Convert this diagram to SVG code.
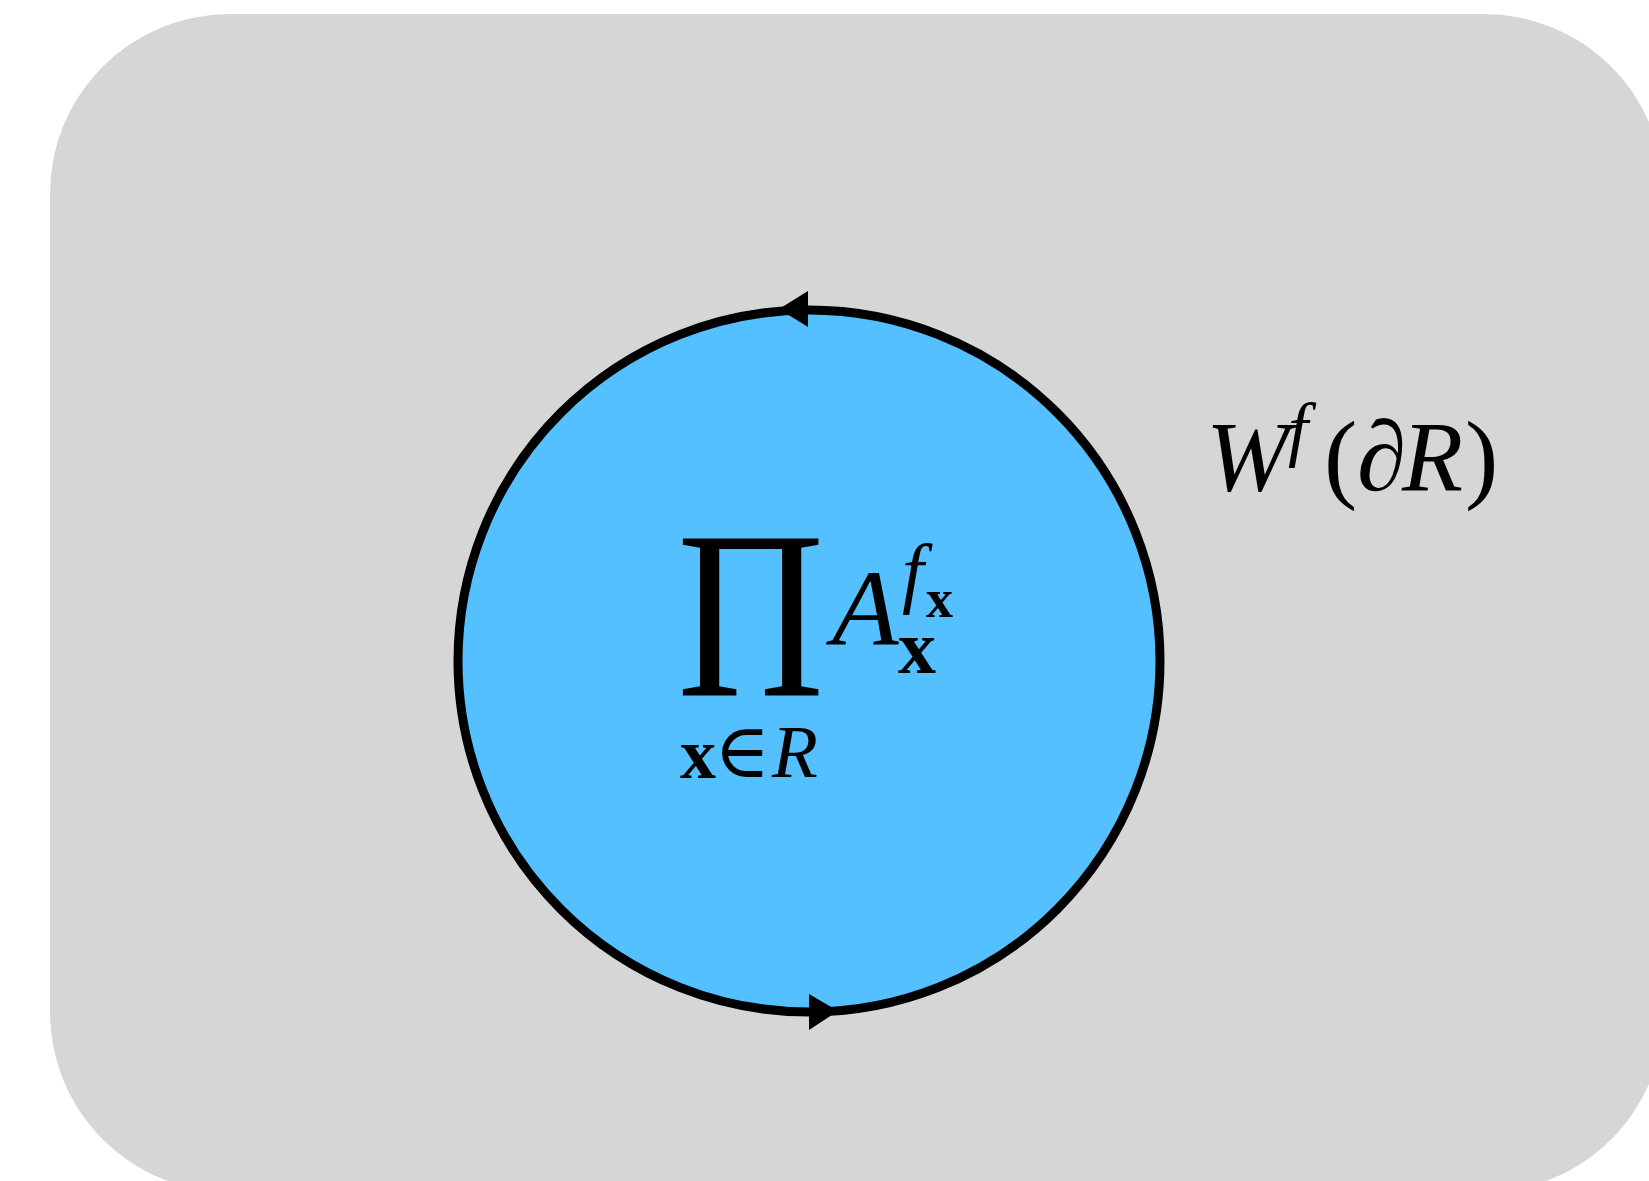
<svg xmlns="http://www.w3.org/2000/svg" width="1649" height="1181" viewBox="0 0 1649 1181">
<style>
.t{font-family:"Liberation Serif","DejaVu Serif",serif;fill:#000}
.i{font-style:italic}
.b{font-weight:bold}
.arrow{fill:#000;stroke:none}
</style>
<rect width="1649" height="1181" fill="#ffffff"/>
<g id="region-bg">
<rect x="50" y="14" width="1614" height="1178" rx="180" ry="180" fill="#d6d6d6"/>
<text class="t" font-size="100"><tspan class="i" x="1206" y="490">W</tspan><tspan class="i" x="1288" y="453" font-size="72">f</tspan><tspan x="1324" y="490">(</tspan><tspan class="i" x="1357" y="490">∂</tspan><tspan class="i" x="1402" y="490">R</tspan><tspan x="1465" y="490">)</tspan></text>
</g>
<g id="region-disc">
<circle cx="809" cy="661" r="351" fill="#54c0ff" stroke="#000" stroke-width="9"/>
<text class="t" transform="translate(677,696) scale(0.85,1)" font-size="240">Π</text>
<text class="t" font-size="109"><tspan class="i" x="832" y="645">A</tspan><tspan class="i" x="902" y="598" font-size="78">f</tspan><tspan class="b" x="926" y="617" font-size="54">x</tspan><tspan class="b" x="898" y="673" font-size="76">x</tspan></text>
<text class="t" font-size="72"><tspan class="b" x="680" y="778">x</tspan><tspan x="714" y="777" font-size="76">∈</tspan><tspan class="i" x="772" y="777" font-size="75">R</tspan></text>
</g>
<g id="connectors">
<polygon class="arrow" points="779,309 808,291 808,327"/>
<polygon class="arrow" points="838,1011 809,994 809,1030"/>
</g>
</svg>
